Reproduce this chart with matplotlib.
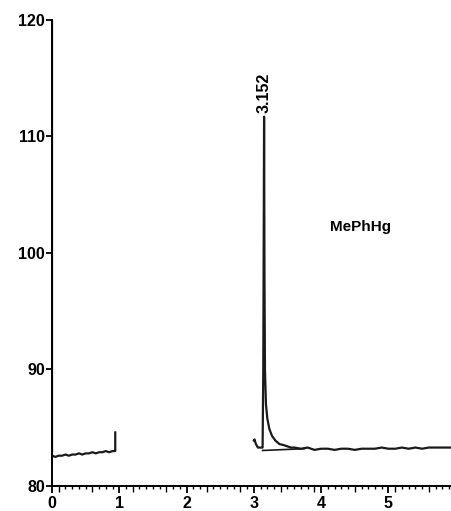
import matplotlib
matplotlib.use('Agg')
import matplotlib.pyplot as plt
from matplotlib.ticker import MultipleLocator

plt.rcParams['font.family'] = ['Liberation Sans', 'DejaVu Sans']
plt.rcParams['font.weight'] = 'bold'

# первый участок: пик растворителя при 0 и базовая линия до ~0.94 мин
t_first = [0.0, 0.0, 0.05, 0.1, 0.15, 0.2, 0.25, 0.3, 0.35, 0.4, 0.45, 0.5,
           0.55, 0.6, 0.65, 0.7, 0.75, 0.8, 0.85, 0.9, 0.935, 0.94, 0.94]
s_first = [121.0, 82.6, 82.5, 82.6, 82.6, 82.7, 82.6, 82.7, 82.7, 82.8, 82.7, 82.8,
           82.8, 82.9, 82.8, 82.9, 82.9, 83.0, 82.9, 83.0, 83.0, 83.0, 84.6]

# второй участок: пик MePhHg при 3.152 мин
t_second = [3.0, 3.01, 3.03, 3.06, 3.1, 3.13, 3.14, 3.148, 3.152, 3.158, 3.165, 3.18,
            3.2, 3.23, 3.27, 3.32, 3.38, 3.45, 3.5, 3.55, 3.6, 3.7, 3.8, 3.9, 4.0,
            4.1, 4.2, 4.3, 4.4, 4.5, 4.6, 4.7, 4.8, 4.9, 5.0, 5.1, 5.2, 5.3, 5.4,
            5.5, 5.6, 5.7, 5.8, 5.93]
s_second = [83.9, 84.0, 83.6, 83.3, 83.3, 83.3, 90.0, 104.0, 111.7, 98.0, 90.0, 87.0,
            85.8, 84.9, 84.3, 83.9, 83.6, 83.5, 83.4, 83.3, 83.3, 83.2, 83.3, 83.1, 83.2,
            83.2, 83.1, 83.2, 83.2, 83.1, 83.2, 83.2, 83.2, 83.3, 83.2, 83.2, 83.3, 83.2, 83.3,
            83.2, 83.3, 83.3, 83.3, 83.3]

# линия интегрирования под пиком
t_base = [3.13, 3.75]
s_base = [83.05, 83.2]

peak_time = 3.152
peak_height = 111.7
peak_label = '3.152'
compound = 'MePhHg'

fig = plt.figure(figsize=(4.51, 5.11), dpi=100)
ax = fig.add_axes([52 / 451, 25 / 511, 1 - 52 / 451, 466 / 511])

ax.plot(t_first, s_first, color='#1a1a1a', lw=1.6)
ax.plot(t_second, s_second, color='#1a1a1a', lw=1.6)
ax.plot(t_base, s_base, color='#1a1a1a', lw=1.2)

ax.text(peak_time + 0.005, peak_height + 0.3, peak_label, rotation=90,
        ha='center', va='bottom', fontsize=11.5, fontweight='bold')
ax.text(4.58, 102.2, compound, ha='center', va='center', fontsize=11, fontweight='bold')

ax.set_xlim(0, 5.93)
ax.set_ylim(80, 120)
ax.spines['top'].set_visible(False)
ax.spines['right'].set_visible(False)
ax.spines['left'].set_linewidth(1.4)
ax.spines['bottom'].set_linewidth(1.4)

ax.xaxis.set_major_locator(MultipleLocator(1))
ax.xaxis.set_minor_locator(MultipleLocator(0.1))
ax.yaxis.set_major_locator(MultipleLocator(10))
ax.tick_params(axis='x', which='major', length=5, width=1.3, pad=2, labelsize=11.5)
ax.tick_params(axis='x', which='minor', length=2.5, width=1.0)
ax.tick_params(axis='y', which='major', length=4, width=1.3, pad=1, labelsize=11.5)
for lab in ax.get_xticklabels() + ax.get_yticklabels():
    lab.set_fontweight('bold')

# полуминутные деления чуть длиннее
minor_locs = ax.xaxis.get_minor_locator()()
for loc, tick in zip(minor_locs, ax.xaxis.get_minor_ticks(len(minor_locs))):
    if abs(loc * 2 - round(loc * 2)) < 1e-6:
        tick.tick1line.set_markersize(4)

plt.savefig('out.png', dpi=100)
